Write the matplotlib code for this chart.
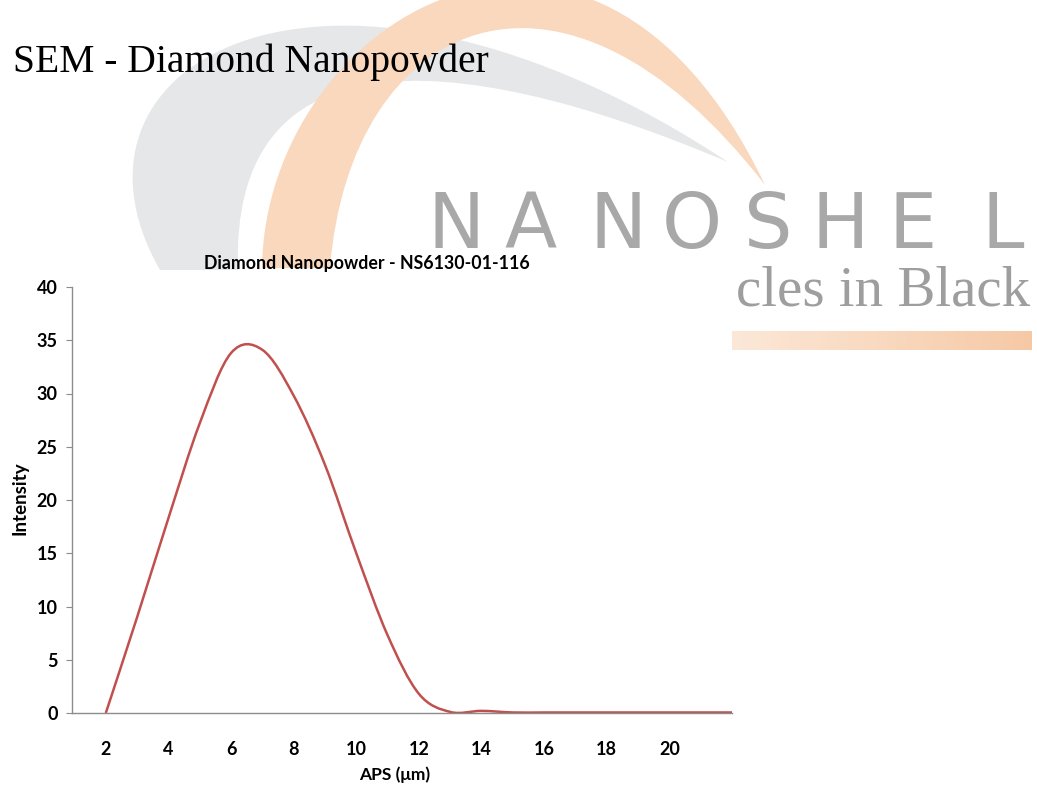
import numpy as np
import matplotlib.pyplot as plt
from matplotlib.path import Path
from matplotlib.patches import PathPatch
from matplotlib.colors import LinearSegmentedColormap

# particle size distribution
aps = [2, 3, 4, 5, 6, 7, 8, 9, 10, 11, 12, 13, 14, 15, 16, 17, 18, 19, 20, 21, 22]
intensity = [0, 9, 18.3, 27.2, 33.8, 34.1, 29.8, 23.3, 15, 7.3, 1.8, 0.1, 0.2,
             0.05, 0.05, 0.05, 0.05, 0.05, 0.05, 0.05, 0.05]
x_ticks = [2, 4, 6, 8, 10, 12, 14, 16, 18, 20]
y_ticks = [0, 5, 10, 15, 20, 25, 30, 35, 40]

page_title = "SEM - Diamond Nanopowder"
chart_title = "Diamond Nanopowder - NS6130-01-116"

W, H = 1037, 787
red = "#c0504d"
axis_grey = "#8c8c8c"
sans = ["Lato", "DejaVu Sans"]


def smooth_path(xs, ys):
    # excel style smoothed line: bezier segments with catmull-rom handles
    pts = np.column_stack([xs, ys]).astype(float)
    n = len(pts)
    verts = [pts[0]]
    codes = [Path.MOVETO]
    for i in range(n - 1):
        p0 = pts[max(i - 1, 0)]
        p1 = pts[i]
        p2 = pts[i + 1]
        p3 = pts[min(i + 2, n - 1)]
        verts += [p1 + (p2 - p0) / 6, p2 - (p3 - p1) / 6, p2]
        codes += [Path.CURVE4] * 3
    return Path(verts, codes)


def crescent(outer, inner):
    verts = list(outer) + list(inner) + [outer[0]]
    codes = [Path.MOVETO] + [Path.CURVE4] * 3 + [Path.LINETO] + [Path.CURVE4] * 3 + [Path.CLOSEPOLY]
    return Path(verts, codes)


fig = plt.figure(figsize=(W / 100, H / 100), dpi=100)

# watermark logo in the background, pixel coordinates
bg = fig.add_axes([0, 0, 1, 1], zorder=0)
bg.axis("off")

grey_arc = crescent([(160, 270), (40, 60), (330, -100), (728, 162)],
                    [(728, 162), (440, 40), (230, 40), (238, 270)])
bg.add_patch(PathPatch(grey_arc, facecolor="#e6e7e9", edgecolor="none"))
orange_arc = crescent([(262, 268), (265, 20), (590, -180), (765, 185)],
                      [(765, 185), (560, -80), (350, 20), (330, 268)])
bg.add_patch(PathPatch(orange_arc, facecolor="#f9d8bd", edgecolor="none"))

for ch, cx in zip("NANOSHEL", [456, 531, 618, 692, 768, 840, 913, 1003]):
    bg.text(cx, 248, ch, ha="center", va="baseline", fontsize=55,
            color="#a8a8a8", family="DejaVu Sans")
bg.text(1030, 305, "cles in Black", ha="right", va="baseline", fontsize=41,
        color="#9e9e9e", family="Liberation Serif")
grad = np.linspace(0, 1, 256).reshape(1, -1)
bar_cmap = LinearSegmentedColormap.from_list("bar", ["#fce8d8", "#f6c9a6"])
bg.imshow(grad, cmap=bar_cmap, extent=(732, 1032, 350, 331), aspect="auto")
bg.set_xlim(0, W)
bg.set_ylim(H, 0)

bg.text(13, 72, page_title, ha="left", va="baseline", fontsize=28.5,
        color="black", family="Liberation Serif")

# the chart
ax = fig.add_axes([72 / W, 1 - 713 / H, 660 / W, 426 / H], zorder=1)
ax.patch.set_alpha(0)
ax.add_patch(PathPatch(smooth_path(aps, intensity), fill=False,
                       edgecolor=red, lw=1.8))
ax.set_xlim(0.92, 22)
ax.set_ylim(0, 40)
ax.set_xticks(x_ticks)
ax.set_yticks(y_ticks)
for s in ["top", "right"]:
    ax.spines[s].set_visible(False)
for s in ["left", "bottom"]:
    ax.spines[s].set_color(axis_grey)
    ax.spines[s].set_linewidth(1.0)
ax.tick_params(axis="y", length=4.3, width=0.8, color=axis_grey, pad=6)
ax.tick_params(axis="x", length=0, pad=20)
for lab in ax.get_xticklabels() + ax.get_yticklabels():
    lab.set_fontweight("bold")
    lab.set_fontsize(13)
    lab.set_family(sans)

fig.text(367 / W, 1 - 263 / H, chart_title, ha="center", va="center",
         fontsize=12.8, fontweight="bold", family=sans)
fig.text(395 / W, 1 - 775 / H, "APS (μm)", ha="center", va="center",
         fontsize=12.5, fontweight="bold", family=sans)
fig.text(20 / W, 1 - 498 / H, "Intensity", ha="center", va="center",
         rotation=90, fontsize=13.5, fontweight="bold", family=sans)

fig.savefig("out.png", dpi=100)
